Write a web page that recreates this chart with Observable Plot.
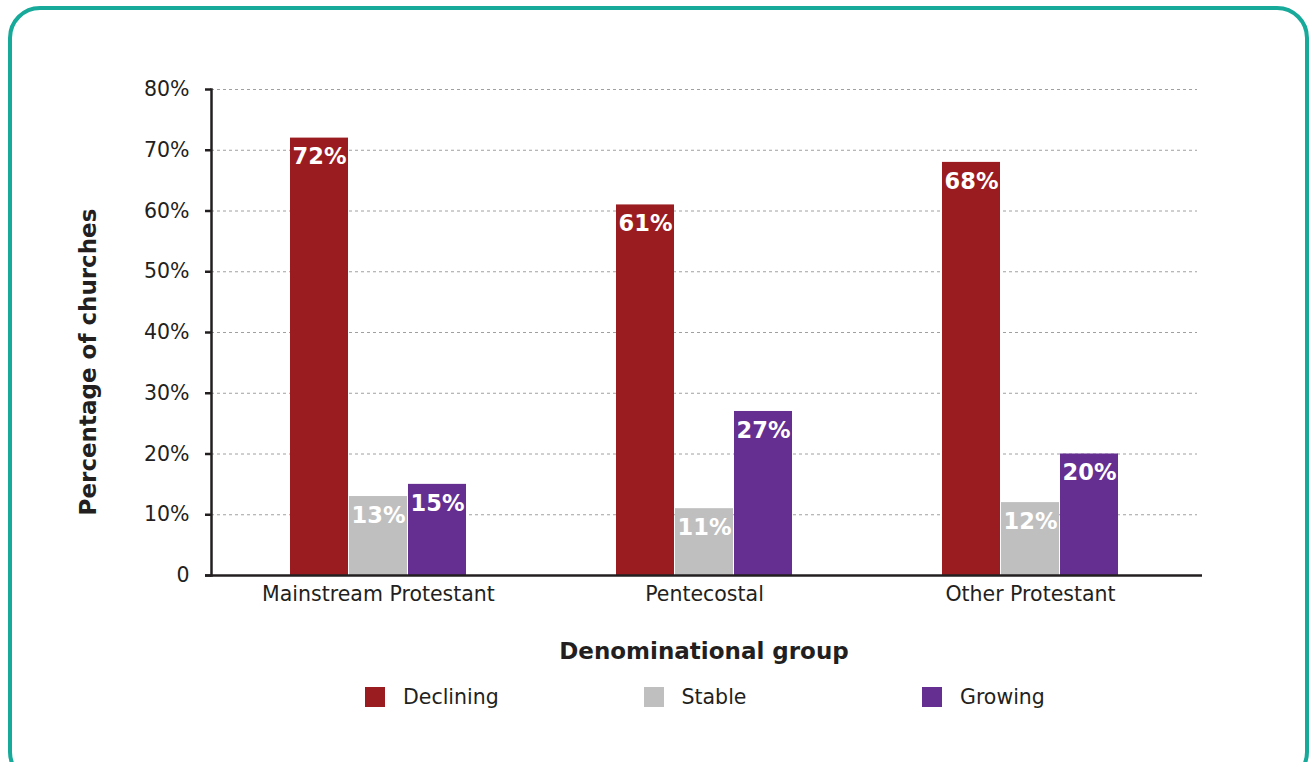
<!DOCTYPE html>
<html>
<head>
<meta charset="utf-8">
<script src="https://cdn.jsdelivr.net/npm/d3@7"></script>
<script src="https://cdn.jsdelivr.net/npm/@observablehq/plot@0.6"></script>
<style>
  html, body { margin: 0; padding: 0; background: #fff; }
  body { width: 1312px; height: 762px; position: relative; overflow: hidden; font-family: "DejaVu Sans", sans-serif; color: #231f20; }
  #border { position: absolute; left: 8px; top: 6px; width: 1293px; height: 770px; border: 4.5px solid #17a99a; border-radius: 32px; box-sizing: content-box; }
  #chart { position: absolute; left: 0; top: 0; }
  #ylabel { position: absolute; left: 88px; top: 362px; transform: translate(-50%, -50%) rotate(-90deg); white-space: nowrap; font-size: 23px; font-weight: 600; }
  #xlabel { position: absolute; left: 211px; width: 986px; top: 638px; text-align: center; font-size: 23px; font-weight: 600; }
  #legend { position: absolute; left: 365px; top: 683px; display: flex; }
  .item { width: 278.5px; display: flex; align-items: center; font-size: 20.5px; height: 28px; }
  .sw { width: 20px; height: 20px; margin-right: 18px; }
</style>
</head>
<body>
<div id="border"></div>
<div id="chart"></div>
<div id="ylabel">Percentage of churches</div>
<div id="xlabel">Denominational group</div>
<div id="legend"></div>
<script>
const groups = ["Mainstream Protestant", "Pentecostal", "Other Protestant"];
const statuses = ["Declining", "Stable", "Growing"];
const declining = [72, 61, 68];
const stable = [13, 11, 12];
const growing = [15, 27, 20];
const colors = ["#9b1c20", "#bfbfbf", "#652e91"];
const yTicks = [0, 10, 20, 30, 40, 50, 60, 70, 80];

const series = [declining, stable, growing];
const rows = [];
statuses.forEach((s, i) => groups.forEach((g, j) => rows.push({group: g, status: s, value: series[i][j]})));

const barW = 58, gap = 1;
const marks = [];
marks.push(Plot.ruleY(yTicks.filter(d => d > 0), {stroke: "#a0a0a0", strokeDasharray: "3,3", strokeWidth: 1}));
statuses.forEach((s, i) => {
  const data = rows.filter(r => r.status === s);
  marks.push(Plot.barY(data, {
    x: "group", y: "value", fill: colors[i],
    insetLeft: i * (barW + gap),
    insetRight: (2 - i) * (barW + gap)
  }));
  marks.push(Plot.text(data, {
    x: "group", y: "value", text: d => d.value + "%",
    dx: (i - 1) * (barW + gap), dy: 19,
    fill: "#fff", fontSize: 22.5, fontWeight: 600
  }));
});
marks.push(Plot.axisY({ticks: yTicks, tickSize: 6, tickPadding: 16, strokeWidth: 2.5, stroke: "#231f20",
  fontSize: 20.5, fill: "#231f20", tickFormat: d => d === 0 ? "0" : d + "%"}));
marks.push(Plot.axisX({tickSize: 0, tickPadding: 11, fontSize: 20.5, fill: "#231f20", label: null}));
marks.push(Plot.frame({anchor: "left", stroke: "#231f20", strokeWidth: 2.5}));
marks.push(Plot.ruleY([0], {stroke: "#231f20", strokeWidth: 2.5, insetLeft: -6, insetRight: -5}));

const chart = Plot.plot({
  width: 1312,
  height: 620,
  marginLeft: 211,
  marginRight: 115,
  marginTop: 89,
  marginBottom: 45,
  style: {fontFamily: "'DejaVu Sans', sans-serif", background: "transparent", overflow: "visible"},
  x: {domain: groups, paddingInner: 0.46, paddingOuter: 0.242, label: null},
  y: {domain: [0, 80], label: null},
  marks
});
document.getElementById("chart").appendChild(chart);

const legend = document.getElementById("legend");
statuses.forEach((s, i) => {
  const it = document.createElement("div");
  it.className = "item";
  const sw = document.createElement("div");
  sw.className = "sw";
  sw.style.background = colors[i];
  const t = document.createElement("span");
  t.textContent = s;
  it.appendChild(sw); it.appendChild(t);
  legend.appendChild(it);
});
</script>
</body>
</html>
